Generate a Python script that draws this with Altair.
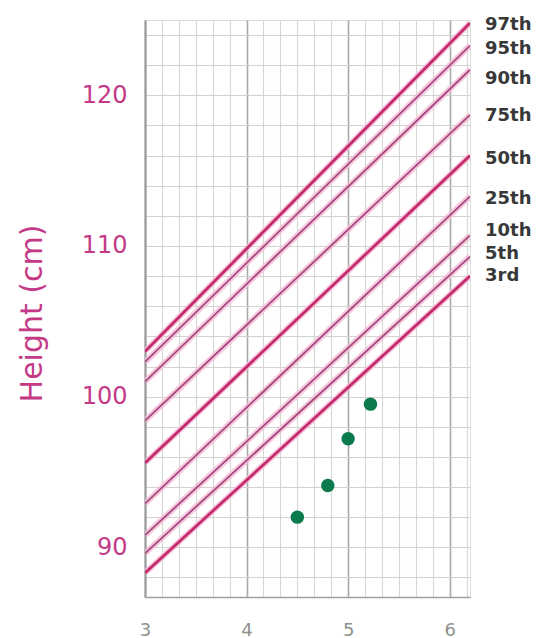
import altair as alt
import pandas as pd

# ---- data ----
percentiles = ["97th", "95th", "90th", "75th", "50th", "25th", "10th", "5th", "3rd"]
height_at_age3 = [103.0, 102.3, 101.0, 98.4, 95.6, 92.9, 90.8, 89.6, 88.3]
height_at_age6_2 = [124.8, 123.3, 121.7, 118.7, 116.0, 113.3, 110.7, 109.3, 108.0]
line_ages = [3.0, 6.2]
label_heights = [124.7, 123.1, 121.1, 118.6, 115.8, 113.1, 111.0, 109.5, 108.0]
bold_percentiles = ["97th", "50th", "3rd"]

child_age = [4.5, 4.8, 5.0, 5.22]
child_height = [92.0, 94.1, 97.2, 99.5]

x_tick_values = [3 + i / 6 for i in range(20)]
y_tick_values = list(range(88, 126, 2))

# ---- tables ----
rows = []
for p, h0, h1 in zip(percentiles, height_at_age3, height_at_age6_2):
    rows.append({"pct": p, "age": line_ages[0], "height": h0})
    rows.append({"pct": p, "age": line_ages[1], "height": h1})
lines_df = pd.DataFrame(rows)
labels_df = pd.DataFrame({"pct": percentiles, "height": label_heights})
child_df = pd.DataFrame({"age": child_age, "height": child_height})

MAGENTA = "#c43a87"

x_scale = alt.Scale(domain=[3, 6.2], nice=False, zero=False)
y_scale = alt.Scale(domain=[86.7, 125], nice=False, zero=False)

x_axis = alt.Axis(
    values=x_tick_values, title=None, ticks=False, labelPadding=24,
    labelExpr="abs(datum.value - round(datum.value)) < 0.01 ? '' + round(datum.value) : ''",
    labelOverlap=False, labelFlush=False, labelFont="DejaVu Sans", labelFontSize=18,
    labelColor="#8d928d", grid=True,
    gridColor=alt.condition("abs(datum.value - round(datum.value)) < 0.01",
                            alt.value("#a9a9a9"), alt.value("#d6d6d6")),
    gridWidth=alt.condition("abs(datum.value - round(datum.value)) < 0.01",
                            alt.value(1.6), alt.value(1.1)),
    domainColor="#a0a0a0", domainWidth=1.6,
)
y_axis = alt.Axis(
    values=y_tick_values, title="Height (cm)", ticks=False, labelPadding=18,
    labelExpr="datum.value % 10 === 0 ? datum.label : ''",
    labelOverlap=False, labelFlush=False, labelFont="DejaVu Sans", labelFontSize=24,
    labelColor=MAGENTA, grid=True, gridColor="#d2d2d2", gridWidth=1.1,
    domainColor="#9a9a9a", domainWidth=2,
    titleFont="DejaVu Sans", titleFontSize=30, titleFontWeight="normal",
    titleColor=MAGENTA, titleAngle=270, titleAlign="center", titleBaseline="middle",
    titleX=-113, titleY=293,
)

X = alt.X("age:Q", scale=x_scale, axis=x_axis)
Y = alt.Y("height:Q", scale=y_scale, axis=y_axis)

base_lines = alt.Chart(lines_df)

halo = base_lines.mark_line(clip=True, color="#f4bcd4", strokeWidth=6, opacity=0.8).encode(
    x=X, y=Y, detail="pct:N"
)
thin = base_lines.transform_filter(
    alt.FieldOneOfPredicate(field="pct", oneOf=[p for p in percentiles if p not in bold_percentiles])
).mark_line(clip=True, color="#a2457c", strokeWidth=1.7).encode(x=X, y=Y, detail="pct:N")
thick = base_lines.transform_filter(
    alt.FieldOneOfPredicate(field="pct", oneOf=bold_percentiles)
).mark_line(clip=True, color="#c42a6c", strokeWidth=2.8).encode(x=X, y=Y, detail="pct:N")

labels = alt.Chart(labels_df).mark_text(
    align="left", baseline="middle", font="DejaVu Sans", fontSize=18, fontWeight="bold",
    color="#383838",
).encode(x=alt.value(340), y=Y, text="pct:N")

points = alt.Chart(child_df).mark_circle(size=180, color="#0b7a4c", opacity=1).encode(x=X, y=Y)

chart = alt.layer(halo, thin, thick, points, labels).properties(
    width=325, height=577,
    autosize=alt.AutoSizeParams(type="none"),
    padding={"left": 137, "top": 12, "right": 62, "bottom": 45},
).configure_view(stroke=None).configure(background="white")

chart.save("out.html", embed_options={"renderer": "svg", "actions": False})
